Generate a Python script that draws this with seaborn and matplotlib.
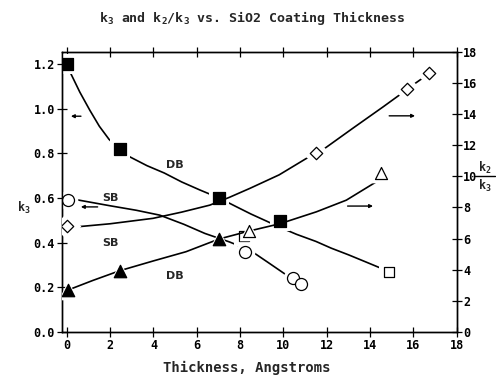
import matplotlib
matplotlib.use('Agg')
import matplotlib.pyplot as plt
import seaborn as sns
import pandas as pd

sns.set_theme(style='ticks')
plt.rcParams['font.family'] = ['DejaVu Sans Mono']
plt.rcParams['font.weight'] = 'bold'
plt.rcParams['mathtext.fontset'] = 'custom'
plt.rcParams['mathtext.rm'] = 'DejaVu Sans Mono:bold'
plt.rcParams['mathtext.default'] = 'rm'

# ---- data ----
# k3, left axis
db_k3_x = [0.0, 2.45, 7.03, 9.83]
db_k3_y = [1.20, 0.818, 0.598, 0.495]
open_sq_x = [8.18, 14.88]
open_sq_y = [0.429, 0.269]
sb_k3_x = [0.06, 8.21, 10.44, 10.80]
sb_k3_y = [0.590, 0.359, 0.242, 0.214]
# k2/k3, right axis
db_ratio_x = [0.05, 2.45, 7.03]
db_ratio_y = [2.68, 3.93, 5.97]
open_tri_x = [8.41, 14.48]
open_tri_y = [6.48, 10.23]
sb_ratio_x = [0.02, 11.52, 15.68, 16.70]
sb_ratio_y = [6.78, 11.48, 15.60, 16.69]

# fitted curves
db_k3_fit_x = [0.0, 0.18, 0.6, 1.06, 1.5, 1.95, 2.45, 2.9, 3.7, 4.5, 5.3, 6.14, 7.03,
               7.8, 8.5, 9.2, 9.8, 10.6, 11.5, 12.2, 13.0, 13.8, 14.52]
db_k3_fit_y = [1.21, 1.159, 1.075, 0.994, 0.922, 0.863, 0.818, 0.785, 0.745, 0.712,
               0.672, 0.636, 0.60, 0.562, 0.528, 0.497, 0.47, 0.437, 0.405, 0.375,
               0.345, 0.313, 0.284]
sb_k3_fit_x = [0.06, 0.52, 2.0, 3.2, 4.29, 5.4, 6.37, 7.5, 8.45, 9.3, 10.14, 10.5]
sb_k3_fit_y = [0.593, 0.591, 0.565, 0.545, 0.523, 0.482, 0.441, 0.403, 0.366, 0.31,
               0.254, 0.236]
sb_ratio_fit_x = [0.02, 0.52, 2.0, 3.98, 5.3, 6.6, 7.5, 8.45, 9.8, 11.06, 11.52, 11.9,
                  13.2, 14.6, 15.45, 15.68, 16.7]
sb_ratio_fit_y = [6.76, 6.76, 6.95, 7.3, 7.7, 8.15, 8.65, 9.23, 10.1, 11.16, 11.48,
                  11.8, 13.1, 14.48, 15.34, 15.6, 16.6]
db_ratio_fit_x = [0.05, 1.2, 2.45, 4.0, 5.5, 7.03, 8.41, 9.83, 11.52, 12.9, 14.4]
db_ratio_fit_y = [2.68, 3.3, 3.93, 4.56, 5.15, 5.97, 6.48, 6.95, 7.72, 8.47, 9.75]

x_ticks = [0, 2, 4, 6, 8, 10, 12, 14, 16, 18]
k3_ticks = [0.0, 0.2, 0.4, 0.6, 0.8, 1.0, 1.2]
ratio_ticks = [0, 2, 4, 6, 8, 10, 12, 14, 16, 18]

fig = plt.figure(figsize=(4.96, 3.78), dpi=100)
ax = fig.add_axes([0.126, 0.1225, 0.795, 0.7395])
ax2 = ax.twinx()

lw = 1.2
halo = 200

def curve(a, x, y):
    sns.lineplot(x=x, y=y, ax=a, color='black', linewidth=lw, sort=False,
                 estimator=None, legend=False, zorder=2)

def marks(a, x, y, marker, filled, s):
    sns.scatterplot(x=x, y=y, ax=a, marker=marker, s=halo, color='white',
                    edgecolor='white', linewidth=0, zorder=3, legend=False)
    sns.scatterplot(x=x, y=y, ax=a, marker=marker, s=s,
                    color='black' if filled else 'white',
                    edgecolor='black', linewidth=0.9, zorder=4, legend=False)

curve(ax, db_k3_fit_x, db_k3_fit_y)
curve(ax, sb_k3_fit_x, sb_k3_fit_y)
curve(ax2, sb_ratio_fit_x, sb_ratio_fit_y)
curve(ax2, db_ratio_fit_x, db_ratio_fit_y)

marks(ax, db_k3_x, db_k3_y, 's', True, 78)
marks(ax, open_sq_x, open_sq_y, 's', False, 60)
marks(ax, sb_k3_x, sb_k3_y, 'o', False, 75)
marks(ax2, db_ratio_x, db_ratio_y, '^', True, 80)
marks(ax2, open_tri_x, open_tri_y, '^', False, 75)
marks(ax2, sb_ratio_x, sb_ratio_y, 'D', False, 40)

# arrows
arr = dict(arrowstyle='-|>', color='black', lw=1.0, mutation_scale=5)
ax.annotate('', xy=(0.06, 0.967), xytext=(0.78, 0.967), arrowprops=arr)
ax.annotate('', xy=(0.52, 0.56), xytext=(1.55, 0.56), arrowprops=arr)
ax2.annotate('', xy=(16.2, 13.9), xytext=(14.75, 13.9), arrowprops=arr)
ax2.annotate('', xy=(14.26, 8.09), xytext=(12.83, 8.09), arrowprops=arr)

lab = dict(fontsize=8, fontweight='bold', family='DejaVu Sans', ha='center', va='center')
ax.text(5.0, 0.748, 'DB', **lab)
ax.text(2.02, 0.60, 'SB', **lab)
ax.text(2.02, 0.40, 'SB', **lab)
ax.text(4.98, 0.25, 'DB', **lab)

ax.set_xlim(-0.2, 18)
ax.set_ylim(0, 1.2544)
ax2.set_ylim(0, 18)
ax.set_xticks(x_ticks)
ax.set_xticklabels([str(v) for v in x_ticks])
ax.set_yticks(k3_ticks)
ax.set_yticklabels([f'{v:.1f}' for v in k3_ticks])
ax2.set_yticks(ratio_ticks)
ax2.set_yticklabels([str(v) for v in ratio_ticks])
ax.set_xlabel('')
ax.set_ylabel('')
ax2.set_ylabel('')

for a in (ax, ax2):
    for sp in a.spines.values():
        sp.set_visible(True)
        sp.set_color('black')
        sp.set_linewidth(1.0)
ax.tick_params(axis='both', direction='inout', length=7, width=0.9, colors='black',
               labelsize=8.5, top=True, pad=2)
ax.tick_params(axis='y', right=False)
ax2.tick_params(axis='y', direction='inout', length=7, width=0.9, colors='black',
                labelsize=8.5, pad=1)
for t in ax.get_xticklabels() + ax.get_yticklabels() + ax2.get_yticklabels():
    t.set_fontweight('bold')

fig.text(0.509, 0.952, 'k$_3$ and k$_2$/k$_3$ vs. SiO2 Coating Thickness',
         ha='center', va='center', fontsize=9.5, fontweight='bold')
fig.text(0.497, 0.027, 'Thickness, Angstroms', ha='center', va='center',
         fontsize=10, fontweight='bold')
fig.text(0.048, 0.45, 'k$_3$', ha='center', va='center', fontsize=8.5, fontweight='bold')
fig.text(0.978, 0.556, 'k$_2$', ha='center', va='center', fontsize=8.5, fontweight='bold')
fig.add_artist(plt.Line2D([0.958, 0.997], [0.535, 0.535], color='black', lw=1.0,
                          transform=fig.transFigure))
fig.text(0.978, 0.508, 'k$_3$', ha='center', va='center', fontsize=8.5, fontweight='bold')

fig.savefig('out.png', dpi=100, facecolor='white')
